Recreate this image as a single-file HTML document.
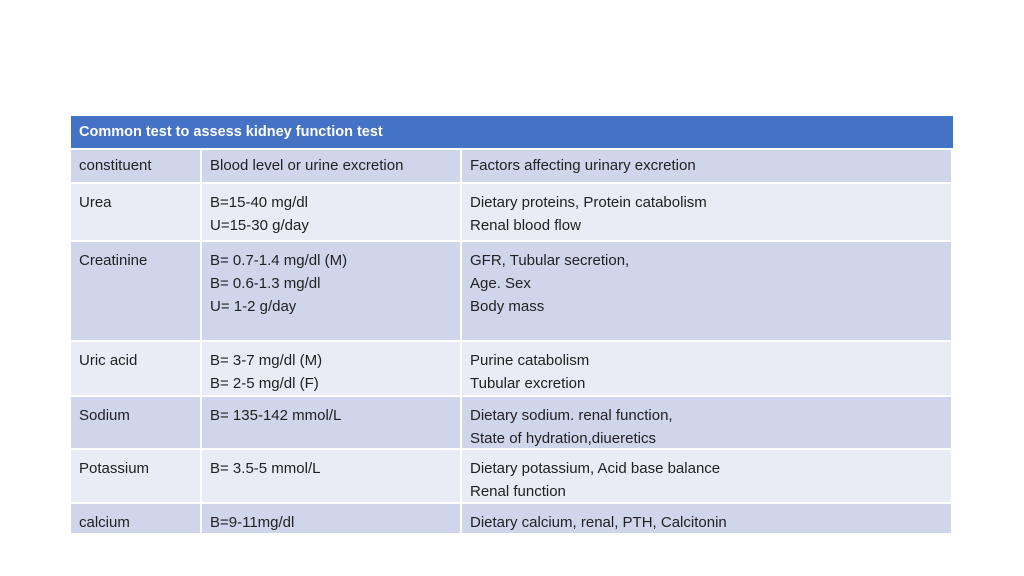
<!DOCTYPE html>
<html><head><meta charset="utf-8"><style>
body{margin:0;width:1024px;height:576px;background:#fff;font-family:"Liberation Sans",sans-serif;position:relative;overflow:hidden}
.c{position:absolute;box-sizing:border-box;padding:7px 0 0 8px;font-size:15px;line-height:23px;color:#222;white-space:nowrap}
.d{background:#CFD5EA}.l{background:#E9EBF5}
.h{position:absolute;left:71px;top:116px;width:882px;height:32px;background:#4472C4;color:#fff;font-weight:bold;font-size:14.5px;line-height:32px;padding-left:8px;box-sizing:border-box}
</style></head><body>
<div class="h">Common test to assess kidney function test</div>
<div id="t"></div>
<script>
const rows=[
["constituent","Blood level or urine excretion","Factors affecting urinary excretion"],
["Urea","B=15-40 mg/dl<br>U=15-30 g/day","Dietary proteins, Protein catabolism<br>Renal blood flow"],
["Creatinine","B= 0.7-1.4 mg/dl (M)<br>B= 0.6-1.3 mg/dl<br>U= 1-2 g/day","GFR, Tubular secretion,<br>Age. Sex<br>Body mass"],
["Uric acid","B= 3-7 mg/dl (M)<br>B= 2-5 mg/dl (F)","Purine catabolism<br>Tubular excretion"],
["Sodium","B= 135-142 mmol/L","Dietary sodium. renal function,<br>State of hydration,diueretics"],
["Potassium","B= 3.5-5 mmol/L","Dietary potassium, Acid base balance<br>Renal function"],
["calcium","B=9-11mg/dl","Dietary calcium, renal, PTH, Calcitonin"]];
const ys=[150,184,242,342,397,450,504,535];
const xs=[71,202,462,953];
const t=document.getElementById('t');
rows.forEach((r,i)=>{r.forEach((txt,j)=>{
const el=document.createElement('div');


el.className='c '+(i%2==0?'d':'l');
el.style.left=xs[j]+'px';el.style.top=ys[i]+'px';
el.style.width=(xs[j+1]-xs[j]-2)+'px';el.style.height=(ys[i+1]-ys[i]-2)+'px';
if(i==0)el.style.paddingTop='4px';
el.innerHTML=txt;t.appendChild(el);});});
</script>
</body></html>
